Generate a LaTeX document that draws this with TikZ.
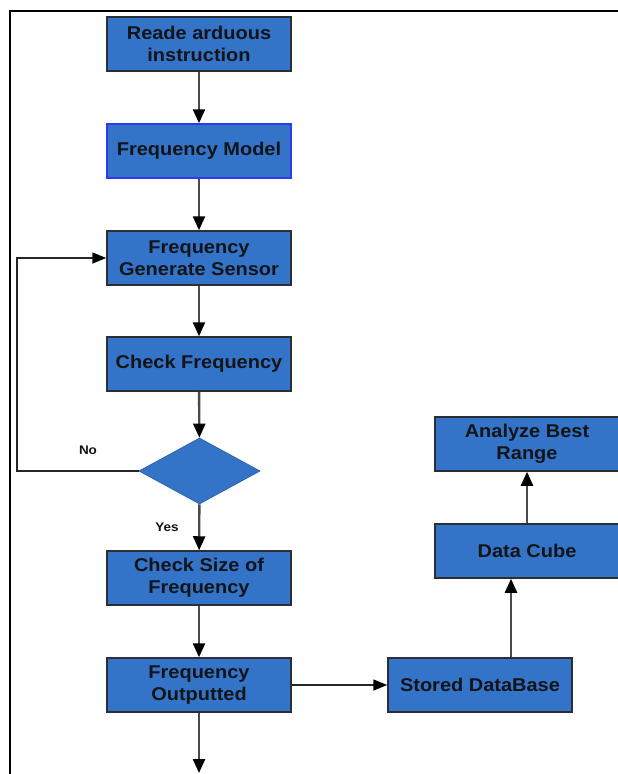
\documentclass[tikz,border=0pt]{standalone}
\usepackage{fontspec}
\setmainfont{Liberation Sans}[FakeStretch=1.08]
\usetikzlibrary{arrows.meta,shapes.geometric}
\definecolor{boxblue}{HTML}{3474C8}
\definecolor{boxedge}{HTML}{2A2E36}
\definecolor{modeledge}{HTML}{2B3BF0}
\definecolor{textdark}{HTML}{121418}
\definecolor{linegray}{HTML}{4A4A4A}
\tikzset{
  stepbox/.style={rectangle, minimum width=184pt, minimum height=54pt, inner sep=0pt,
    fill=boxblue, draw=boxedge, line width=1.5pt, align=center, text=textdark,
    font=\bfseries\fontsize{18.5}{22}\selectfont},
  decision/.style={diamond, minimum width=121pt, minimum height=66pt, inner sep=0pt,
    fill=boxblue, draw=boxblue!85!black, line width=0.8pt},
  vflow/.style={draw=linegray, line width=2.4pt, -{Triangle[length=14pt,width=12pt,fill=black,color=black]}},
  hflow/.style={draw=black!85, line width=1.5pt, -{Triangle[length=14pt,width=11pt,fill=black,color=black]}},
  lbl/.style={font=\bfseries\fontsize{12.5}{14}\selectfont, text=textdark}
}
\begin{document}
\begin{tikzpicture}[x=1pt,y=-1pt]
\useasboundingbox (0,0) rectangle (618,774);
\fill[white] (0,0) rectangle (618,774);
\draw[black, line width=2pt] (9.5,774) -- (9.5,11) -- (618,11);

\node[stepbox] (b1) at (199,44) {Reade arduous\\instruction};
\node[stepbox, draw=modeledge] (b2) at (199,151) {Frequency Model};
\node[stepbox] (b3) at (199,258) {Frequency\\Generate Sensor};
\node[stepbox] (b4) at (199,364) {Check Frequency};
\node[decision] (d1) at (199.5,471) {};
\node[stepbox] (b6) at (199,578) {Check Size of\\Frequency};
\node[stepbox] (b7) at (199,685) {Frequency\\Outputted};
\node[stepbox] (sdb) at (480,685) {Stored DataBase};
\node[stepbox] (dc) at (527,551) {Data Cube};
\node[stepbox] (abr) at (527,444) {Analyze Best\\Range};

\coordinate (endb) at (199,773);
\coordinate (loopx) at (17,471);

\draw[vflow] (b1) -- (b2);
\draw[vflow] (b2) -- (b3);
\draw[vflow] (b3) -- (b4);
\draw[vflow] (b4) -- (d1);
\draw[vflow] (d1) -- (b6);
\draw[vflow] (b6) -- (b7);
\draw[vflow] (b7) -- (endb);
\draw[hflow] (d1.west) -- (loopx) |- (b3.west);
\draw[hflow] (b7) -- (sdb);
\draw[vflow] ([xshift=31pt]sdb.north) -- ([xshift=31pt]sdb.north |- dc.south);
\draw[vflow] (dc) -- (abr);

\node[lbl] (no) at (88,450) {No};
\node[lbl] (yes) at (167,527) {Yes};
\end{tikzpicture}
\end{document}
